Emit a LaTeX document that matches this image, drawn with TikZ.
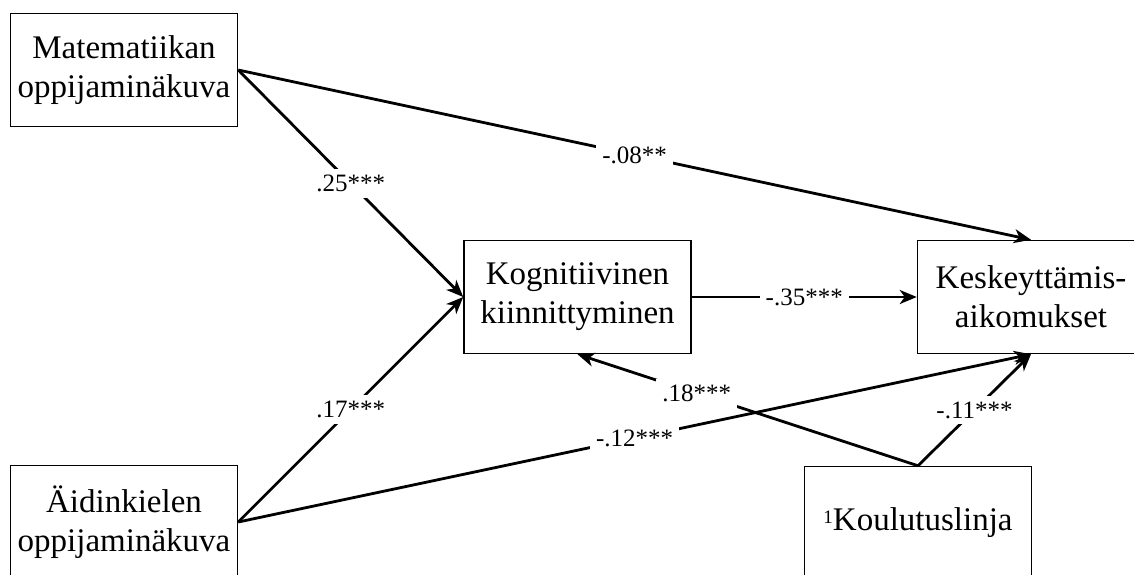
\documentclass[tikz,border=0pt]{standalone}
\usepackage{fontspec}
\setmainfont{Liberation Serif}
\usetikzlibrary{arrows.meta}
\begin{document}
\begin{tikzpicture}[x=1pt,y=-1pt,
  varbox/.style={draw, line width=1.5pt, minimum width=227pt, minimum height=113pt,
    align=center, font=\fontsize{33}{39}\selectfont, inner sep=0pt},
  path/.style={line width=2.8pt, -{Stealth[length=17pt,width=14pt,inset=5pt]}},
  coef/.style={fill=white, font=\fontsize{25}{28}\selectfont, inner sep=6pt}]
\clip (0,0) rectangle (1134,574);
\fill[white] (0,0) rectangle (1134,574);
\node[varbox] (mat) at (124,70) {Matematiikan\\oppijaminäkuva};
\node[varbox] (aid) at (124,522) {Äidinkielen\\oppijaminäkuva};
\node[varbox] (kog) at (577.5,297) {Kognitiivinen\\kiinnittyminen};
\node[varbox] (kes) at (1031,297) {Keskeyttämis-\\aikomukset};
\node[varbox] (kou) at (918,523) {{\fontsize{19}{19}\selectfont\raisebox{7pt}{1}}Koulutuslinja};
\draw[path] (mat.east) -- node[coef, pos=0.5] {-.08**} (kes.north);
\draw[path] (mat.east) -- node[coef, pos=0.5] {.25***} (kog.west);
\draw[path] (aid.east) -- node[coef, pos=0.5] {.17***} (kog.west);
\draw[path] (aid.east) -- node[coef, pos=0.5] {-.12***} (kes.south);
\draw[path] (kog.east) -- node[coef, pos=0.5] {-.35***} (kes.west);
\draw[path] (kou.north) -- node[coef, pos=0.65] {.18***} (kog.south);
\draw[path] (kou.north) -- node[coef, pos=0.5] {-.11***} (kes.south);
\end{tikzpicture}
\end{document}
